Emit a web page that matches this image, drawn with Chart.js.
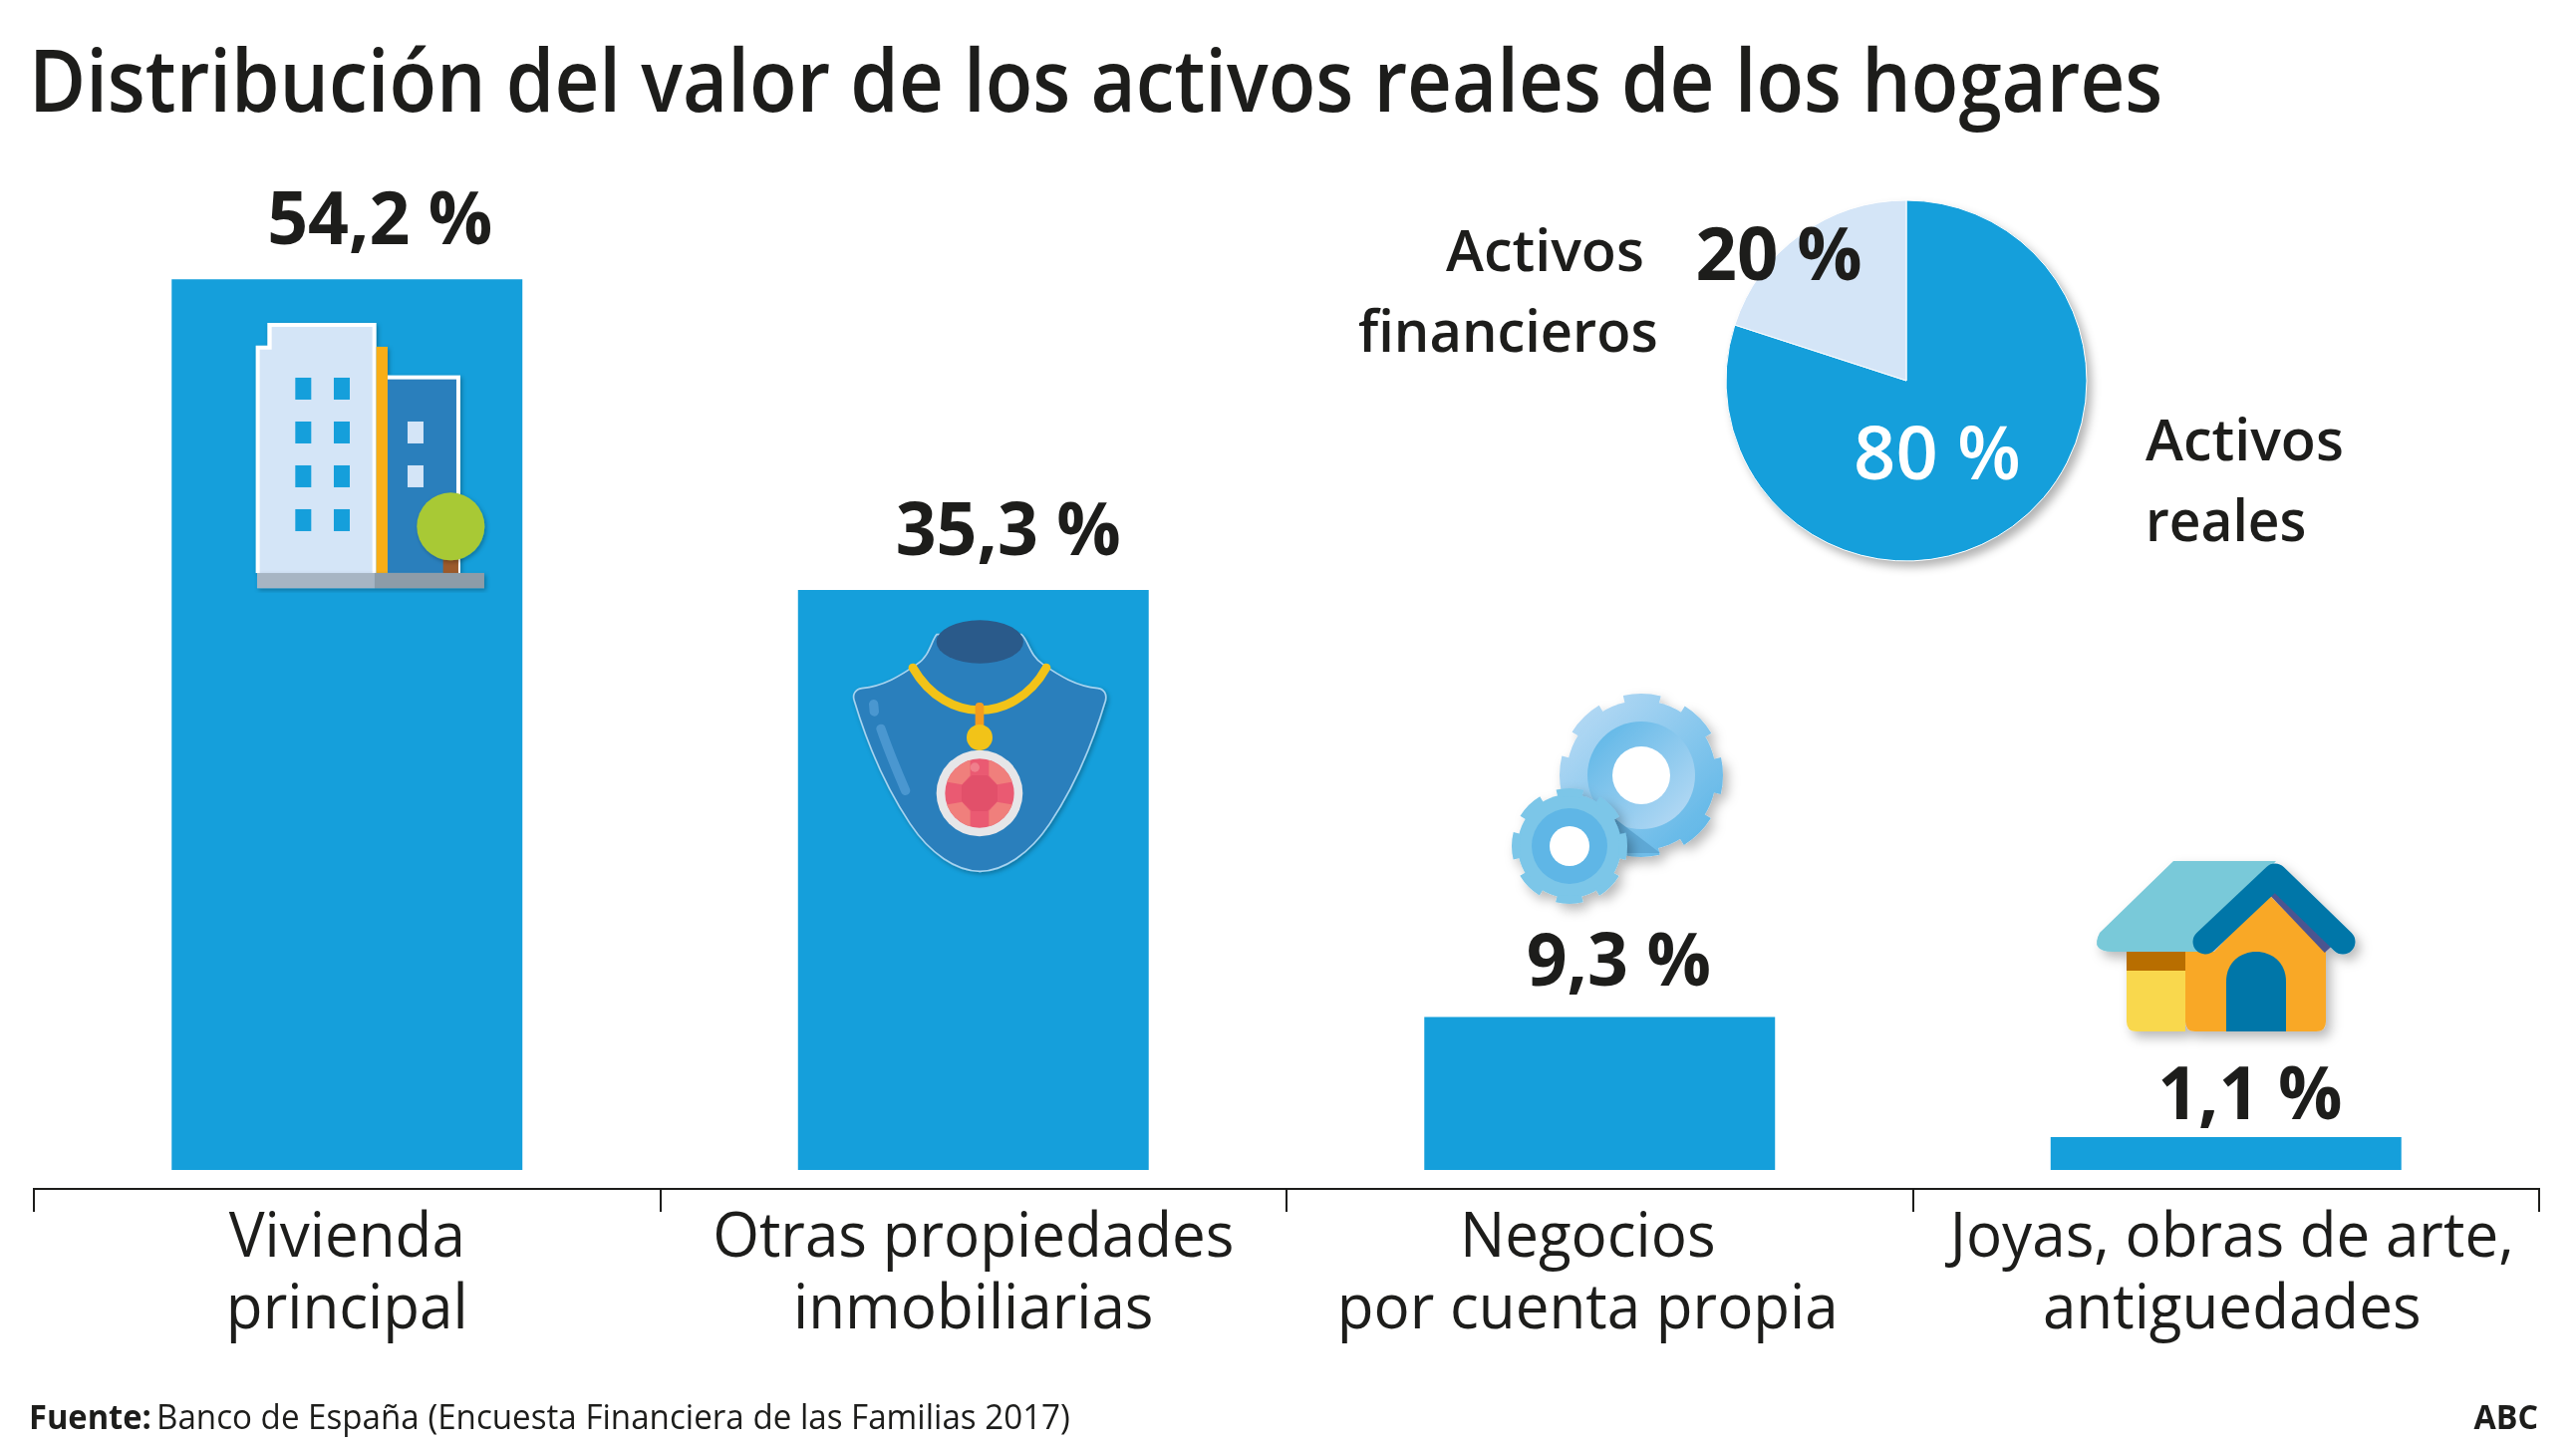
<!DOCTYPE html>
<html lang="es">
<head>
<meta charset="utf-8">
<title>Distribución del valor de los activos reales de los hogares</title>
<script src="https://cdn.jsdelivr.net/npm/chart.js@4/dist/chart.umd.min.js"></script>
<style>
  html, body { margin: 0; padding: 0; background: #fff; }
  #page { position: relative; width: 2585px; height: 1455px; overflow: hidden; }
  #bars { position: absolute; left: 0; top: 0; }
  #icons { position: absolute; left: 0; top: 0; pointer-events: none; }
  #pie { position: absolute; left: 1313px; top: 182px; }
</style>
</head>
<body>
<div id="page">
  <canvas id="bars" width="2585" height="1455"></canvas>

  <svg id="icons" width="2585" height="1455" viewBox="0 0 2585 1455">
    <defs>
      <filter id="shade" x="-20%" y="-20%" width="150%" height="150%">
        <feDropShadow dx="5" dy="6" stdDeviation="6" flood-color="#000" flood-opacity="0.28"/>
      </filter>
      <linearGradient id="gearOuter" x1="0" y1="0" x2="1" y2="1">
        <stop offset="0" stop-color="#bcdcf5"/>
        <stop offset="1" stop-color="#58b4e6"/>
      </linearGradient>
      <linearGradient id="gearRing" x1="0" y1="0" x2="1" y2="1">
        <stop offset="0" stop-color="#58b4e6"/>
        <stop offset="1" stop-color="#bcdcf5"/>
      </linearGradient>
      <clipPath id="gemClip"><circle cx="609" cy="678" r="104"/></clipPath>
    </defs>

    <!-- edificio -->
    <g transform="translate(130 150) scale(0.3333)">
      <g filter="url(#shade)">
        <path d="M380 590H415V522H743V1275H380Z" fill="#fff"/>
        <rect x="743" y="594" width="34" height="681" fill="#f9ae14"/>
        <rect x="777" y="680" width="219" height="595" fill="#fff"/>
      </g>
      <path d="M392 602H428V534H731V1275H392Z" fill="#d4e5f7"/>
      <rect x="777" y="692" width="207" height="583" fill="#2a7fbc"/>
      <g fill="#159fdb">
        <rect x="499" y="687" width="48" height="66"/><rect x="615" y="687" width="48" height="66"/>
        <rect x="499" y="819" width="48" height="66"/><rect x="615" y="819" width="48" height="66"/>
        <rect x="499" y="951" width="48" height="66"/><rect x="615" y="951" width="48" height="66"/>
        <rect x="499" y="1083" width="48" height="66"/><rect x="615" y="1083" width="48" height="66"/>
      </g>
      <g fill="#d4e5f7">
        <rect x="837" y="819" width="48" height="66"/>
        <rect x="837" y="951" width="48" height="66"/>
      </g>
      <rect x="944" y="1225" width="46" height="52" fill="#9c5a2b"/>
      <circle cx="967" cy="1135" r="102" fill="#a8c936" filter="url(#shade)"/>
      <g filter="url(#shade)">
        <rect x="384" y="1275" width="354" height="46" fill="#a7b5c3"/>
        <rect x="738" y="1275" width="330" height="46" fill="#8d9ca8"/>
      </g>
    </g>

    <!-- collar -->
    <g transform="translate(780 570) scale(0.3333)">
      <path filter="url(#shade)" fill="#2a7fbc" stroke="#a7d3ef" stroke-width="5"
        d="M480 200C465 215 460 265 420 290C370 325 320 355 255 362C235 365 225 380 232 400C280 560 340 680 400 770C460 860 540 913 610 913C680 913 760 860 820 770C880 680 940 560 988 400C993 380 985 365 965 362C900 355 850 325 800 290C760 265 755 215 735 200Z"/>
      <ellipse cx="610" cy="222" rx="131" ry="65" fill="#2a5a8a"/>
      <path d="M290 410L292 432M312 484C335 550 360 610 386 670" stroke="#4a97d0" stroke-width="28" stroke-linecap="round" fill="none"/>
      <path d="M408 300C460 390 540 428 608 428C680 428 760 390 810 300" stroke="#f2c318" stroke-width="26" stroke-linecap="round" fill="none"/>
      <rect x="596" y="405" width="26" height="90" rx="12" fill="#f39c1f"/>
      <circle cx="609" cy="510" r="39" fill="#f2c318"/>
      <circle cx="609" cy="678" r="130" fill="#e6e6e8"/>
      <circle cx="609" cy="678" r="104" fill="#ea5a72"/>
      <g clip-path="url(#gemClip)" fill="#f07f7c">
        <path d="M637 570L730 640L662 652L637 625Z"/>
        <path d="M581 570L488 640L556 652L581 625Z"/>
        <path d="M637 786L730 716L662 704L637 731Z"/>
        <path d="M581 786L488 716L556 704L581 731Z"/>
      </g>
      <path d="M586 624H632L663 655V701L632 732H586L555 701V655Z" fill="#e2506a"/>
      <circle cx="595" cy="600" r="14" fill="#f07f8c"/>
    </g>

    <!-- engranajes -->
    <g filter="url(#shade)">
      <circle cx="1647" cy="778" r="75" fill="url(#gearOuter)"/>
      <circle cx="1647" cy="778" r="77" fill="none" stroke="url(#gearOuter)" stroke-width="10" stroke-dasharray="36 24.5" stroke-dashoffset="18"/>
      <circle cx="1647" cy="778" r="54" fill="url(#gearRing)"/>
      <circle cx="1647" cy="778" r="29" fill="#fff"/>
    </g>
    <path d="M1620 821L1666 856H1631Z" fill="#5ea8d5"/>
    <g filter="url(#shade)">
      <circle cx="1575" cy="849" r="52" fill="#7bc6e8"/>
      <circle cx="1575" cy="849" r="54" fill="none" stroke="#7bc6e8" stroke-width="8" stroke-dasharray="26 16.4" stroke-dashoffset="13"/>
      <circle cx="1575" cy="849" r="38" fill="#5fb6e6"/>
      <circle cx="1575" cy="849" r="20" fill="#fff"/>
    </g>

    <!-- casa -->
    <g filter="url(#shade)">
      <path d="M2134 974H2193V1035H2144Q2134 1035 2134 1025Z" fill="#f9d84e"/>
      <rect x="2134" y="955" width="59" height="19" fill="#b86e00"/>
      <path d="M2193 955H2222L2276 897L2334 955V1025Q2334 1035 2324 1035H2203Q2193 1035 2193 1025Z" fill="#f9a825"/>
      <path d="M2234 1035V985C2234 945 2294 945 2294 985V1035Z" fill="#0076a8"/>
      <path d="M2181 864H2284L2205 955H2120Q2097 955 2107 936Z" fill="#79c9d9"/>
      <path d="M2279 893L2336 953" stroke="#4c5490" stroke-width="9" fill="none"/>
      <path d="M2213 945L2283 879L2351 945" stroke="#0076a8" stroke-width="25" stroke-linecap="round" stroke-linejoin="round" fill="none"/>
    </g>
  </svg>

  <canvas id="pie" width="1200" height="400"></canvas>
</div>

<script>
'use strict';

const categories = [
  ['Vivienda', 'principal'],
  ['Otras propiedades', 'inmobiliarias'],
  ['Negocios', 'por cuenta propia'],
  ['Joyas, obras de arte,', 'antiguedades'],
];
// the last bar is drawn taller in the picture than its 1,1 % label says
const barValues = [54.2, 35.3, 9.3, 2.0];
const barLabels = ['54,2 %', '35,3 %', '9,3 %', '1,1 %'];

const pieCategories = ['Activos reales', 'Activos financieros'];
const pieValues = [80, 20];
const pieLabels = ['80 %', '20 %'];

const titleText = 'Distribución del valor de los activos reales de los hogares';
const sourceBold = 'Fuente:';
const sourceText = 'Banco de España (Encuesta Financiera de las Familias 2017)';
const brandText = 'ABC';

const INK = '#1d1d1b';
const BLUE = '#159fdb';
const PALE = '#d4e5f7';
const FONT = '"Open Sans", sans-serif';

// fillText with maxWidth squeezes the glyphs, the original face is narrower than Open Sans
function squeezedText(ctx, text, x, y, squeeze) {
  ctx.fillText(text, x, y, ctx.measureText(text).width * squeeze);
}

const pageText = {
  id: 'pageText',
  afterDatasetsDraw(chart) {
    const ctx = chart.ctx;
    ctx.save();
    ctx.fillStyle = INK;
    ctx.textBaseline = 'alphabetic';

    ctx.textAlign = 'left';
    ctx.font = '600 87px ' + FONT;
    squeezedText(ctx, titleText, 29, 112, 0.896);

    // value labels above the bars
    const labelShiftX = [33, 35, 19, 24];
    const labelGap = [35, 35, 32, 18];
    const bars = chart.getDatasetMeta(0).data;
    ctx.textAlign = 'center';
    ctx.font = '700 73px ' + FONT;
    bars.forEach(function (bar, i) {
      squeezedText(ctx, barLabels[i], bar.x + labelShiftX[i], bar.y - labelGap[i], 0.98);
    });

    // category labels under the ticks
    const lineShiftX = [0, 0, -12, 6];
    const xScale = chart.scales.x;
    ctx.font = '400 62px ' + FONT;
    categories.forEach(function (lines, i) {
      const cx = xScale.getPixelForTick(i) + lineShiftX[i];
      lines.forEach(function (line, j) {
        squeezedText(ctx, line, cx, 1261 + j * 72, 0.97);
      });
    });

    ctx.textAlign = 'left';
    ctx.font = '700 34px ' + FONT;
    squeezedText(ctx, sourceBold, 29, 1434, 0.96);
    ctx.font = '400 34px ' + FONT;
    squeezedText(ctx, sourceText, 157, 1434, 0.975);
    ctx.textAlign = 'right';
    ctx.font = '700 34px ' + FONT;
    squeezedText(ctx, brandText, 2547, 1434, 0.95);
    ctx.restore();
  },
};

new Chart(document.getElementById('bars'), {
  type: 'bar',
  data: {
    labels: categories,
    datasets: [{
      data: barValues,
      backgroundColor: BLUE,
      borderWidth: 0,
      barPercentage: 0.56,
      categoryPercentage: 1,
    }],
  },
  options: {
    responsive: false,
    animation: false,
    layout: { padding: { left: 34, right: 37, top: 0, bottom: 239 } },
    plugins: { legend: { display: false }, tooltip: { enabled: false } },
    scales: {
      x: {
        ticks: { display: false },
        border: { display: true, color: INK, width: 2 },
        grid: { display: true, drawOnChartArea: false, drawTicks: true, tickLength: 23, color: INK, lineWidth: 2 },
      },
      y: { display: false, min: -1.16, max: 71.2 },
    },
  },
  plugins: [pageText],
});

const pieText = {
  id: 'pieText',
  // soft shadow behind the whole disc, so the slices don't shade each other
  beforeDatasetsDraw(chart) {
    const ctx = chart.ctx;
    const arc = chart.getDatasetMeta(0).data[0];
    ctx.save();
    ctx.shadowColor = 'rgba(0, 0, 0, 0.3)';
    ctx.shadowBlur = 10;
    ctx.shadowOffsetX = 5;
    ctx.shadowOffsetY = 6;
    ctx.fillStyle = '#fff';
    ctx.beginPath();
    ctx.arc(arc.x, arc.y, arc.outerRadius, 0, Math.PI * 2);
    ctx.fill();
    ctx.restore();
  },
  afterDatasetsDraw(chart) {
    const ctx = chart.ctx;
    const arc = chart.getDatasetMeta(0).data[0];
    ctx.save();
    ctx.textBaseline = 'alphabetic';
    ctx.textAlign = 'center';
    ctx.font = '600 74px ' + FONT;
    ctx.fillStyle = '#fff';
    squeezedText(ctx, pieLabels[0], arc.x + 31, arc.y + 99, 1);
    ctx.font = '700 74px ' + FONT;
    ctx.fillStyle = INK;
    squeezedText(ctx, pieLabels[1], arc.x - 128, arc.y - 101, 0.98);

    ctx.textAlign = 'left';
    ctx.font = '600 58px ' + FONT;
    const realWords = pieCategories[0].split(' ');
    const finWords = pieCategories[1].split(' ');
    squeezedText(ctx, realWords[0], arc.x + 240, arc.y + 80, 0.99);
    squeezedText(ctx, realWords[1], arc.x + 240, arc.y + 161, 0.95);
    squeezedText(ctx, finWords[0], arc.x - 462, arc.y - 110, 0.99);
    squeezedText(ctx, finWords[1], arc.x - 550, arc.y - 29, 0.965);
    ctx.restore();
  },
};

new Chart(document.getElementById('pie'), {
  type: 'pie',
  data: {
    labels: pieCategories,
    datasets: [{
      data: pieValues,
      backgroundColor: [BLUE, PALE],
      borderColor: '#fff',
      borderWidth: 1,
      radius: 181,
    }],
  },
  options: {
    responsive: false,
    animation: false,
    plugins: { legend: { display: false }, tooltip: { enabled: false } },
  },
  plugins: [pieText],
});
</script>
</body>
</html>
